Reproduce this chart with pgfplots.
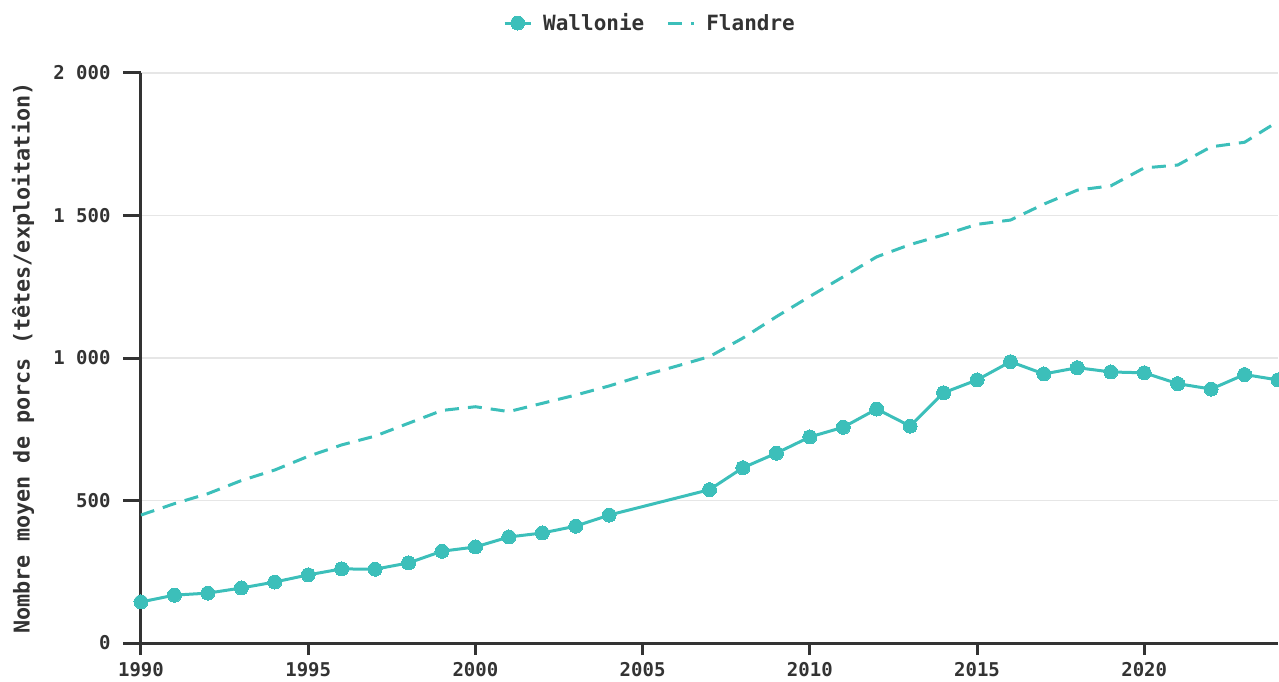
\documentclass[border=0pt]{standalone}
\usepackage{fontspec}
\setmainfont{DejaVu Sans Mono}
\usepackage{pgfplots}
\pgfplotsset{compat=1.18}
\definecolor{wal}{HTML}{3CBFBA}
\definecolor{txt}{HTML}{333333}
\definecolor{gridc}{HTML}{E6E6E6}
\newcommand\tickfont{\bfseries\fontsize{19}{19}\selectfont}
\newcommand\legfont{\bfseries\fontsize{21}{21}\selectfont}
\newcommand\labfont{\bfseries\fontsize{21.8}{21.8}\selectfont}
\begin{document}
\begin{tikzpicture}
\useasboundingbox (-141pt,-38pt) rectangle (1138pt,643pt);
\begin{axis}[
  at={(0,0)}, anchor=south west,
  scale only axis, width=1137pt, height=570pt,
  xmin=1990, xmax=2024, ymin=0, ymax=2000,
  clip=false,
  axis lines*=left,
  axis line style={draw=txt, line width=3pt},
  tick align=outside,
  major tick length=18pt,
  tick style={draw=txt, line width=3pt},
  xtick style={/pgfplots/major tick length=12pt},
  xtick={1990,1995,2000,2005,2010,2015,2020},
  xticklabels={1990,1995,2000,2005,2010,2015,2020},
  ytick={0,500,1000,1500,2000},
  yticklabels={0,500,1 000,1 500,2 000},
  minor tick num=0,
  ymajorgrids,
  grid style={draw=gridc, line width=1.5pt},
  xticklabel style={font=\tickfont, text=txt, yshift=2pt},
  yticklabel style={font=\tickfont, text=txt, xshift=-9pt},
  ylabel={Nombre moyen de porcs (têtes/exploitation)},
  ylabel style={font=\labfont, text=txt, at={(axis description cs:-0.1038,0.5)}, anchor=center},
  legend columns=2,
  legend style={at={(0.4477,1.0877)}, anchor=center, draw=none, fill=none,
    font=\legfont, text=txt,
    /tikz/every odd column/.append style={column sep=9pt},
    /tikz/every even column/.append style={column sep=20pt}},
  legend image code/.code={\draw[mark repeat=2,mark phase=2,#1] plot coordinates {(0pt,0pt)(13pt,0pt)(26pt,0pt)};},
]
\addplot[draw=wal, line width=3pt, mark=*, mark size=7pt, mark options={solid, fill=wal, draw=wal, line width=0pt}]
coordinates {
(1990,144) (1991,168) (1992,175) (1993,193) (1994,214) (1995,239)
(1996,260) (1997,259) (1998,281) (1999,322) (2000,337) (2001,372)
(2002,386) (2003,410) (2004,449) (2007,538) (2008,615) (2009,666)
(2010,723) (2011,757) (2012,821) (2013,761) (2014,878) (2015,923)
(2016,987) (2017,944) (2018,966) (2019,951) (2020,948) (2021,910)
(2022,891) (2023,942) (2024,923)
};
\addlegendentry{Wallonie}
\addplot[draw=wal, line width=3pt, dash pattern=on 14pt off 9pt]
coordinates {
(1990,449) (1991,489) (1992,524) (1993,570) (1994,607) (1995,655)
(1996,695) (1997,726) (1998,771) (1999,816) (2000,829) (2001,812)
(2002,841) (2003,870) (2004,902) (2005,938) (2006,971) (2007,1005)
(2008,1070) (2009,1145) (2010,1216) (2011,1285) (2012,1355) (2013,1398)
(2014,1432) (2015,1469) (2016,1484) (2017,1540) (2018,1589) (2019,1604)
(2020,1667) (2021,1677) (2022,1741) (2023,1757) (2024,1830)
};
\addlegendentry{Flandre}
\end{axis}
\end{tikzpicture}
\end{document}
